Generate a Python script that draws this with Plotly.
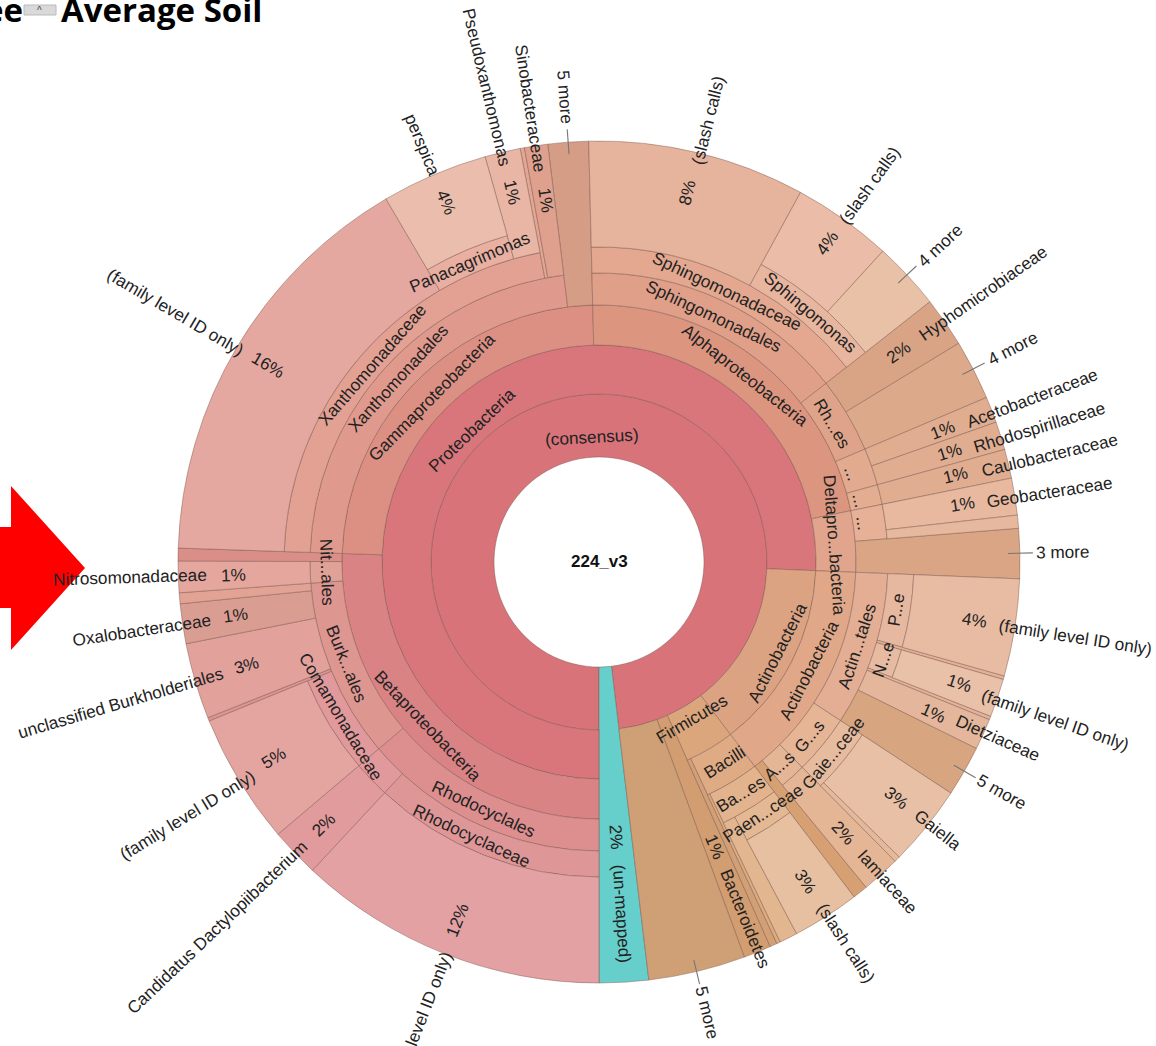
import math
import plotly.graph_objects as go

W, H = 1156, 1046
CX, CY = 599, 562          # chart centre on the page
RMAX = 484                 # radial axis range: one unit = one pixel

ring_edges = [105, 168, 217, 257, 289, 315, 339, 421]

node_names = [
 "consensus","un-mapped",
 "Proteobacteria","Actinobacteria","Firmicutes","Bacteroidetes","5 more",
 "Betaproteobacteria","Gammaproteobacteria","Alphaproteobacteria","Deltaproteobacteria","Actinobacteria c","Bacilli","Firm other",
 "Rhodocyclales","Burkholderiales","Nitrosomonadales","Beta other","Xanthomonadales","5 more g","Sphingomonadales","Rhizobiales","Rhodospirillales","Caulobacterales","Desulfuromonadales","3 more","Actinomycetales","Gaiellales","Acidimicrobiales","Actino other","Bacillales","Bacilli other",
 "Rhodocyclaceae","Rhodo other","Comamonadaceae","Burk thin","unclassified Burkholderiales","Oxalobacteraceae","Burk thin 2","Nitrosomonadaceae","Xanthomonadaceae","Xan thin","Sinobacteraceae","Sphingomonadaceae","Hyphomicrobiaceae","4 more r","Acetobacteraceae","Rhodospirillaceae","Caulobacteraceae","Geobacteraceae","Geo thin","P...e","Act thin","N...e","Act thin 2","Dietziaceae","5 more a","Gaiellaceae","Iamiaceae","Paenibacillaceae","Bac thin",
 "family only 12","Candidatus Dactylopiibacterium","family only 5","family only 16","Panacagrimonas","Pseudoxanthomonas","slash 8","Sphingomonas","family only 4","family only 1","Gaiella","Gaiel thin","slash 3",
 "perspica","slash 4","4 more s",
]
node_depth = [
 0,0,
 1,1,1,1,1,
 2,2,2,2,2,2,2,
 3,3,3,3,3,3,3,3,3,3,3,3,3,3,3,3,3,3,
 4,4,4,4,4,4,4,4,4,4,4,4,4,4,4,4,4,4,4,4,4,4,4,4,4,4,4,4,4,
 5,5,5,5,5,5,5,5,5,5,5,5,5,
 6,6,6,
]
node_start = [
 180,173.2,
 180,92.3,142.7,156,159.8,
 180,271.9,358.6,78.5,92.3,142.7,155,
 180,229.7,265.8,270.1,271.9,353,358.6,51.8,67,74.5,78.5,85.4,92.3,123.3,135.3,140.6,142.7,154.5,
 180,222.9,229.7,247.8,248.3,258.8,264.3,265.8,271.9,349.2,349.8,358.6,51.8,58.7,67,70.6,74.5,78.5,83.6,92.3,105.7,106.2,111.5,112,116.3,123.3,135.3,142.7,152,
 180,222.9,229.7,271.9,329.6,344.3,358.6,28.6,92.3,106.2,123.3,134.5,142.7,
 329.6,28.6,42.4,
]
node_end = [
 533.2,180,
 452.3,142.7,156,159.8,173.2,
 271.9,358.6,438.5,92.3,142.7,155,156,
 229.7,265.8,270.1,271.9,353,358.6,411.8,67,74.5,78.5,85.4,92.3,123.3,135.3,140.6,142.7,154.5,155,
 222.9,229.7,247.8,248.3,258.8,264.3,265.8,270.1,349.2,349.8,353,411.8,58.7,67,70.6,74.5,78.5,83.6,85.4,105.7,106.2,111.5,112,116.3,123.3,135.3,140.6,152,154.5,
 222.9,229.7,247.8,329.6,344.3,349.2,388.6,51.8,105.7,111.5,134.5,135.3,152,
 344.3,42.4,51.8,
]
node_leaf = [
 0,1,
 0,0,0,1,1,
 0,0,0,0,0,0,1,
 0,0,0,1,0,1,0,0,0,0,0,1,0,0,0,1,0,1,
 0,0,0,1,1,1,1,1,0,1,1,0,1,1,1,1,1,1,1,0,1,0,1,1,1,0,1,0,1,
 1,1,1,1,0,1,1,0,1,1,1,1,1,
 1,1,1,
]
node_color = [
 "#d8737a","#66cfcb",
 "#d8767b","#dba382","#dca67c","#d29d70","#cfa076",
 "#d98385","#dc9084","#dc9680","#e0a58c","#e0a888","#dfab84","#d2a076",
 "#dd8e8f","#dd9690","#e0a196","#d98f88","#e0998d","#d59c86","#df9f88","#dfa38a","#e2aa8f","#e3ad91","#e6b197","#d9a584","#e3ae93","#e5b596","#e5b695","#d6a073","#e2b38d","#dcab80",
 "#df9697","#e1999b","#e1999b","#dc9490","#e3a19c","#da9d91","#e2a395","#e5a79d","#e3a194","#e3a594","#dfa18e","#e3a88f","#d9a386","#dca98b","#e0ad91","#e0ad91","#e0ad91","#e8b89f","#e6b99e","#e6b89f","#e3b198","#e7bba2","#e3b198","#e4b69b","#d8a581","#e7bb9e","#e5b695","#e4b892","#e2b68f",
 "#e4a1a4","#e29b9c","#e4a5a1","#e5a8a0","#e9afa1","#e9b6a5","#e6b49c","#e8b59f","#e8bca3","#e9c0a8","#e8c0a6","#e4b99a","#e6c0a1",
 "#ebbdac","#ebbca7","#e9c1a7",
]

# radial labels: text, theta, radius
radial_text = ["4%","perspica","1%","Pseudoxanthomonas","1%","Sinobacteraceae","5 more","8%","(slash calls)","4%","(slash calls)","4 more","2%","Hyphomicrobiaceae","4 more","1%","Acetobacteraceae","1%","Rhodospirillaceae","1%","Caulobacteraceae","1%","Geobacteraceae","3 more","4%","(family level ID only)","1%","(family level ID only)","1%","Dietziaceae","5 more","3%","Gaiella","2%","Iamiaceae","3%","(slash calls)","1%","Bacteroidetes","5 more","2%","(un-mapped)","12%","(family level ID only)","2%","Candidatus Dactylopiibacterium","5%","(family level ID only)","3%","unclassified Burkholderiales","1%","Oxalobacteraceae","1%","Nitrosomonadaceae","16%","(family level ID only)"]
radial_theta = [337,337.1,346.8,346.7,351.7,351.4,355.8,13.5,13.9,35.6,35.7,47.1,55,55,62.7,68.9,69.3,72.5,73,76.3,76.7,80.9,81.2,88.8,98.8,99,108.6,109.1,114.3,113.8,119.7,128.4,128.3,137.9,137.9,147.1,147,157.9,157.7,166.5,176.5,176.3,201.6,201.3,226.4,226.3,239,238.4,253.7,253.6,261.7,261.5,268,268.2,300.8,300.5]
radial_r = [391,453,380,488,366,459,466,380,455,392,464,466,366,469,466,368,463,367,461,367,463,368,456,464,380,482,380,483,367,436,464,380,432,365,431,381,454,308,385,464,276,352,385,496,381,528,380,483,367,499,367,462,366,469,385,492]

# tangential labels: text, theta, radius
tangent_text = ["(consensus)","Proteobacteria","Gammaproteobacteria","Xanthomonadales","Xanthomonadaceae","Panacagrimonas","Sphingomonadaceae","Sphingomonadales","Alphaproteobacteria","Sphingomonas","Rh...es","Deltapro...bacteria","...","...","...","Actinobacteria","Actinobacteria","Actin...tales","P...e","N...e","G...s","A...s","Ba...es","Bacilli","Firmicutes","Gaie...ceae","Paen...ceae","Betaproteobacteria","Rhodocyclales","Rhodocyclaceae","Comamonadaceae","Burk...ales","Nit...ales"]
tangent_theta = [356.8,316,314.6,312.5,311,336.7,25.2,25,38,40.2,59.2,85.9,70.6,76.6,81.6,117.1,117.2,108,99.2,109,129.6,138.6,148.6,147.8,149.4,129.2,146.8,226.2,205,204.9,239,248,267.9]
tangent_r = [125,183,235,272,301,327,300,271,237,327,271,236,268,268,267,200,236,271,301,300,273,272,272,236,182,302,300,237,272,302,301,272,272]

# leader lines of the collapsed "n more" wedges
leader_theta = [355.8,47,62.7,88.8,119.8,166.6]
leader_inner = 409
leader_outer = 434

FONT = "Liberation Sans"
SIZE = 17.2
INK = "#222222"
EDGE = "rgba(120,82,72,0.55)"

def page(theta, r):
    a = math.radians(theta)
    return (CX + r * math.sin(a)) / W, 1 - (CY - r * math.cos(a)) / H

def norm(t):
    return t % 360

r0 = [ring_edges[d] for d in node_depth]
r1 = [ring_edges[-1] if lf else ring_edges[d + 1] for d, lf in zip(node_depth, node_leaf)]

fig = go.Figure()
fig.add_trace(go.Barpolar(
    theta=[(a + b) / 2 for a, b in zip(node_start, node_end)],
    width=[b - a for a, b in zip(node_start, node_end)],
    base=r0,
    r=[o - i for i, o in zip(r0, r1)],
    marker=dict(color=node_color, line=dict(color=EDGE, width=0.8)),
    text=node_names,
    hoverinfo="text",
))
lt, lr = [], []
for t in leader_theta:
    lt += [t, t, None]
    lr += [leader_inner, leader_outer, None]
fig.add_trace(go.Scatterpolar(theta=lt, r=lr, mode="lines",
                              line=dict(color="#777777", width=1.1), hoverinfo="skip"))

ann = []
for s, t, r in zip(radial_text, radial_theta, radial_r):
    x, y = page(t, r)
    rot = norm(t) - 90 if norm(t) < 180 else norm(t) - 270
    ann.append(dict(text=s, x=x, y=y, textangle=rot))
for s, t, r in zip(tangent_text, tangent_theta, tangent_r):
    x, y = page(t, r)
    n = norm(t)
    rot = n - 180 if 90 < n < 270 else (n - 360 if n > 270 else n)
    ann.append(dict(text=s, x=x, y=y, textangle=rot))
for a in ann:
    a.update(xref="paper", yref="paper", xanchor="center", yanchor="middle", showarrow=False,
             font=dict(family=FONT, size=SIZE, color=INK))
ann.append(dict(text="<b>224_v3</b>", x=CX / W, y=1 - 561 / H, xref="paper", yref="paper",
                xanchor="center", yanchor="middle", showarrow=False,
                font=dict(family=FONT, size=17, color="#111111")))
ann.append(dict(text="<b>Average Soil</b>", x=59 / W, y=1 - 9 / H, xref="paper", yref="paper",
                xanchor="left", yanchor="middle", showarrow=False,
                font=dict(family="Open Sans", size=33, color="#000000")))
ann.append(dict(text="<b>ee</b>", x=25 / W, y=1 - 9 / H, xref="paper", yref="paper",
                xanchor="right", yanchor="middle", showarrow=False,
                font=dict(family="Open Sans", size=33, color="#000000")))
ann.append(dict(text="^", x=39 / W, y=1 - 10 / H, xref="paper", yref="paper",
                xanchor="center", yanchor="middle", showarrow=False,
                font=dict(family=FONT, size=10, color="#444444")))

shapes = [
    dict(type="path", xref="paper", yref="paper", layer="below",
         path="M 0 {a} L {x1} {a} L {x1} {b} L {x2} {c} L {x1} {d} L {x1} {e} L 0 {e} Z".format(
             a=1 - 527 / H, b=1 - 486 / H, c=1 - 568 / H, d=1 - 650 / H, e=1 - 608 / H,
             x1=11 / W, x2=85 / W),
         fillcolor="#ff0000", line=dict(width=0)),
    dict(type="rect", xref="paper", yref="paper", x0=24 / W, x1=56 / W, y0=1 - 15 / H, y1=1 - 5 / H,
         fillcolor="#d9d9d9", line=dict(color="#bbbbbb", width=1)),
]

fig.update_layout(
    width=W, height=H, margin=dict(l=0, r=0, t=0, b=0), showlegend=False,
    paper_bgcolor="white", plot_bgcolor="white", annotations=ann, shapes=shapes,
    polar=dict(
        domain=dict(x=[(CX - RMAX) / W, (CX + RMAX) / W], y=[1 - (CY + RMAX) / H, 1 - (CY - RMAX) / H]),
        bgcolor="rgba(0,0,0,0)",
        radialaxis=dict(range=[0, RMAX], visible=False),
        angularaxis=dict(direction="clockwise", rotation=90, visible=False, thetaunit="degrees"),
        barmode="overlay",
    ),
)
fig.write_html("out.html", config=dict(displayModeBar=False),
               post_script="document.body.style.margin='0';document.body.style.overflow='hidden';window.dispatchEvent(new Event('resize'));")
